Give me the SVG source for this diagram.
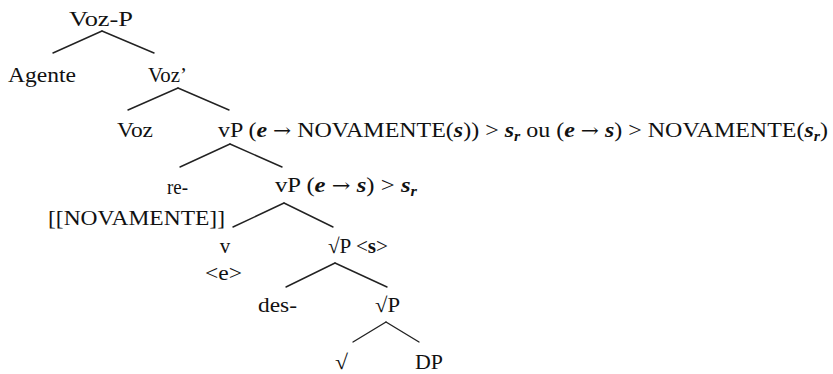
<svg xmlns="http://www.w3.org/2000/svg" width="833" height="374" viewBox="0 0 833 374">
<style>
text{font-family:"Liberation Serif","Times New Roman",serif;font-size:21px;fill:#111;}
.bi{font-weight:bold;font-style:italic;}
.sub{font-size:14px;}
.ar{font-family:"DejaVu Serif","Liberation Serif",serif;font-size:19px;}
#connectors line{stroke:#222;stroke-width:1.4;stroke-linecap:round;}
</style>
<rect width="833" height="374" fill="#fff"/>
<g id="connectors">
<line x1="102" y1="31" x2="53" y2="53"/><line x1="102" y1="31" x2="154" y2="53"/>
<line x1="178" y1="88" x2="128" y2="110"/><line x1="178" y1="88" x2="229" y2="110"/>
<line x1="230" y1="144" x2="180" y2="167"/><line x1="230" y1="144" x2="282" y2="167"/>
<line x1="284" y1="203" x2="233" y2="227"/><line x1="284" y1="203" x2="333" y2="227"/>
<line x1="335" y1="263" x2="286" y2="287"/><line x1="335" y1="263" x2="387" y2="287"/>
<line x1="386" y1="322" x2="353" y2="342"/><line x1="386" y1="322" x2="419" y2="342"/>
</g>
<g id="vozP"><text x="69" y="25.5" textLength="64" lengthAdjust="spacingAndGlyphs">Voz-P</text></g>
<g id="agente"><text x="8" y="82" textLength="68" lengthAdjust="spacingAndGlyphs">Agente</text></g>
<g id="vozBar"><text x="148" y="82" textLength="39" lengthAdjust="spacingAndGlyphs">Voz’</text></g>
<g id="voz"><text x="117" y="137" textLength="36" lengthAdjust="spacingAndGlyphs">Voz</text></g>
<g id="vP1"><text x="218" y="137" textLength="610" lengthAdjust="spacingAndGlyphs">vP (<tspan class="bi">e</tspan> <tspan class="ar">→</tspan> NOVAMENTE(<tspan class="bi">s</tspan>)) &gt; <tspan class="bi">s</tspan><tspan class="bi sub" dy="4">r</tspan><tspan dy="-4"> ou (</tspan><tspan class="bi">e</tspan> <tspan class="ar">→</tspan> <tspan class="bi">s</tspan>) &gt; NOVAMENTE(<tspan class="bi">s</tspan><tspan class="bi sub" dy="4">r</tspan><tspan dy="-4">)</tspan></text></g>
<g id="re"><text x="167" y="194" textLength="21" lengthAdjust="spacingAndGlyphs">re-</text><text x="48" y="225" textLength="177" lengthAdjust="spacingAndGlyphs">[[NOVAMENTE]]</text></g>
<g id="vP2"><text x="275" y="192" textLength="142" lengthAdjust="spacingAndGlyphs">vP (<tspan class="bi">e</tspan> <tspan class="ar">→</tspan> <tspan class="bi">s</tspan>) &gt; <tspan class="bi">s</tspan><tspan class="bi sub" dy="4">r</tspan></text></g>
<g id="v"><text x="225" y="253" text-anchor="middle">v</text><text x="205" y="280" textLength="37" lengthAdjust="spacingAndGlyphs">&lt;e&gt;</text></g>
<g id="rootP1"><text x="328" y="253" textLength="60" lengthAdjust="spacingAndGlyphs">√P &lt;<tspan font-weight="bold">s</tspan>&gt;</text></g>
<g id="des"><text x="258" y="312" textLength="39" lengthAdjust="spacingAndGlyphs">des-</text></g>
<g id="rootP2"><text x="375" y="312" textLength="25" lengthAdjust="spacingAndGlyphs">√P</text></g>
<g id="root"><text x="335" y="368.5" textLength="13" lengthAdjust="spacingAndGlyphs">√</text></g>
<g id="dp"><text x="415" y="368.5" textLength="28" lengthAdjust="spacingAndGlyphs">DP</text></g>
</svg>
